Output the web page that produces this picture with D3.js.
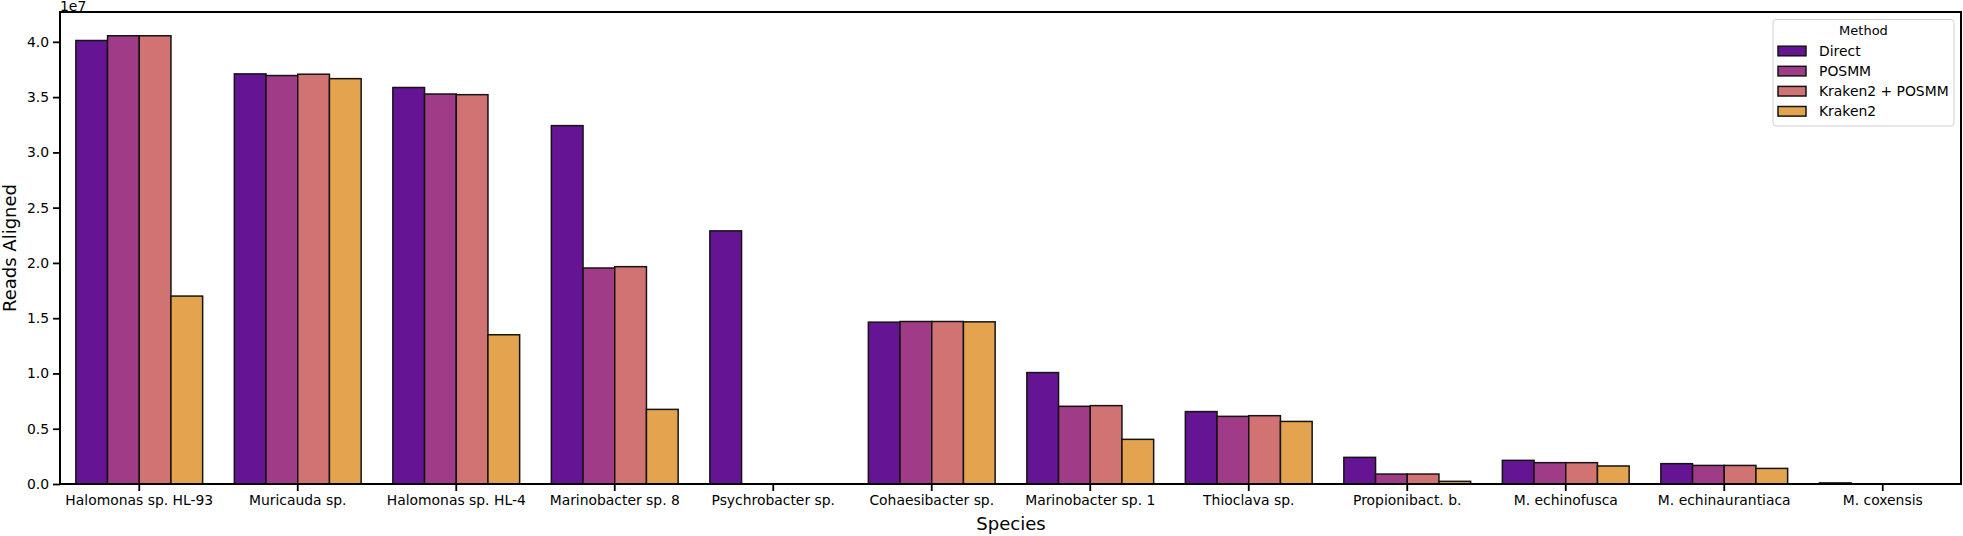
<!DOCTYPE html>
<html>
<head>
<meta charset="utf-8">
<script src="https://cdn.jsdelivr.net/npm/d3@7"></script>
<style>
  html, body { margin: 0; padding: 0; background: #ffffff; }
  svg { display: block; font-family: "DejaVu Sans", sans-serif; }
</style>
</head>
<body>
<svg id="chart" width="1963" height="536"></svg>
<script>
// ---- data ----
const species = ["Halomonas sp. HL-93", "Muricauda sp.", "Halomonas sp. HL-4", "Marinobacter sp. 8",
  "Psychrobacter sp.", "Cohaesibacter sp.", "Marinobacter sp. 1", "Thioclava sp.",
  "Propionibact. b.", "M. echinofusca", "M. echinaurantiaca", "M. coxensis"];
const methods = ["Direct", "POSMM", "Kraken2 + POSMM", "Kraken2"];
const directVals  = [4.012e7, 3.710e7, 3.587e7, 3.242e7, 2.290e7, 1.464e7, 1.008e7, 0.655e7, 0.241e7, 0.214e7, 0.184e7, 0.010e7];
const posmmVals   = [4.055e7, 3.695e7, 3.528e7, 1.954e7, 0, 1.470e7, 0.703e7, 0.612e7, 0.090e7, 0.193e7, 0.168e7, 0];
const krakPosVals = [4.055e7, 3.707e7, 3.522e7, 1.966e7, 0, 1.470e7, 0.709e7, 0.618e7, 0.090e7, 0.193e7, 0.168e7, 0];
const kraken2Vals = [1.700e7, 3.667e7, 1.350e7, 0.675e7, 0, 1.467e7, 0.404e7, 0.566e7, 0.024e7, 0.163e7, 0.141e7, 0];
const yTicks = [0, 0.5e7, 1.0e7, 1.5e7, 2.0e7, 2.5e7, 3.0e7, 3.5e7, 4.0e7];
const xTitle = "Species";
const yTitle = "Reads Aligned";
const legendTitle = "Method";
const offsetLabel = "1e7";

const seriesVals = [directVals, posmmVals, krakPosVals, kraken2Vals];

// ---- layout ----
const svg = d3.select("#chart");
const margin = { left: 60, right: 1, top: 12, bottom: 52 };
const W = 1963, H = 536;
const x0 = margin.left, x1 = W - margin.right;
const yTop = margin.top, yBot = H - margin.bottom;

// colours: plasma palette, desaturated like seaborn (0.75)
const colors = [0.2, 0.4, 0.6, 0.8].map(t => {
  const c = d3.hsl(d3.interpolatePlasma(t));
  c.s *= 0.75;
  return c.formatHex();
});

const maxVal = d3.max(seriesVals.flat());
const y = d3.scaleLinear().domain([0, maxVal * 1.053]).range([yBot, yTop]);
const xb = d3.scaleBand().domain(species).range([x0, x1]).paddingInner(0.2).paddingOuter(0.1);
const xs = d3.scaleBand().domain(methods).range([0, xb.bandwidth()]).padding(0);

// bars
const g = svg.append("g");
methods.forEach((m, mi) => {
  g.selectAll(null)
    .data(species.map((s, i) => ({ s, v: seriesVals[mi][i] })))
    .join("rect")
    .attr("x", d => xb(d.s) + xs(m))
    .attr("y", d => y(d.v))
    .attr("width", xs.bandwidth())
    .attr("height", d => y(0) - y(d.v))
    .attr("fill", colors[mi])
    .attr("stroke", "#141414")
    .attr("stroke-width", 1.5);
});

// axes
const yAxis = d3.axisLeft(y).tickValues(yTicks).tickSize(7).tickPadding(4)
  .tickFormat(d => (d / 1e7).toFixed(1));
const ya = svg.append("g").attr("transform", `translate(${x0},0)`).call(yAxis);
const xAxis = d3.axisBottom(xb).tickSize(7).tickPadding(4);
const xa = svg.append("g").attr("transform", `translate(0,${yBot})`).call(xAxis);
[ya, xa].forEach(a => {
  a.select(".domain").remove();
  a.selectAll(".tick line").attr("stroke", "#000").attr("stroke-width", 1.8);
  a.selectAll(".tick text").attr("fill", "#000").style("font-size", "13.9px")
    .style("font-family", "DejaVu Sans");
});

// frame (spines)
svg.append("rect")
  .attr("x", x0).attr("y", yTop)
  .attr("width", x1 - x0 - 1).attr("height", yBot - yTop)
  .attr("fill", "none").attr("stroke", "#000").attr("stroke-width", 2);

// offset text
svg.append("text").attr("x", x0).attr("y", yTop - 1.5)
  .style("font-size", "13.9px").text(offsetLabel);

// axis titles
svg.append("text")
  .attr("x", (x0 + x1) / 2).attr("y", 530)
  .attr("text-anchor", "middle").style("font-size", "18px").text(xTitle);
svg.append("text")
  .attr("transform", `translate(15.5,${(yTop + yBot) / 2}) rotate(-90)`)
  .attr("text-anchor", "middle").style("font-size", "18px").text(yTitle);

// legend
const lg = svg.append("g");
const lx = 1773, ly = 19.5, lw = 181, lh = 106.5;
lg.append("rect").attr("x", lx).attr("y", ly).attr("width", lw).attr("height", lh)
  .attr("rx", 3).attr("fill", "#ffffff").attr("fill-opacity", 0.8)
  .attr("stroke", "#d0d0d0").attr("stroke-width", 1);
lg.append("text").attr("x", lx + lw / 2).attr("y", ly + 15)
  .attr("text-anchor", "middle").style("font-size", "13px").text(legendTitle);
methods.forEach((m, i) => {
  const cy = ly + 31.5 + i * 20.1;
  lg.append("rect").attr("x", lx + 5).attr("y", cy - 4.8).attr("width", 28).attr("height", 9.6)
    .attr("fill", colors[i]).attr("stroke", "#141414").attr("stroke-width", 1.5);
  lg.append("text").attr("x", lx + 46).attr("y", cy + 5)
    .style("font-size", "13.9px").text(m);
});
</script>
</body>
</html>
